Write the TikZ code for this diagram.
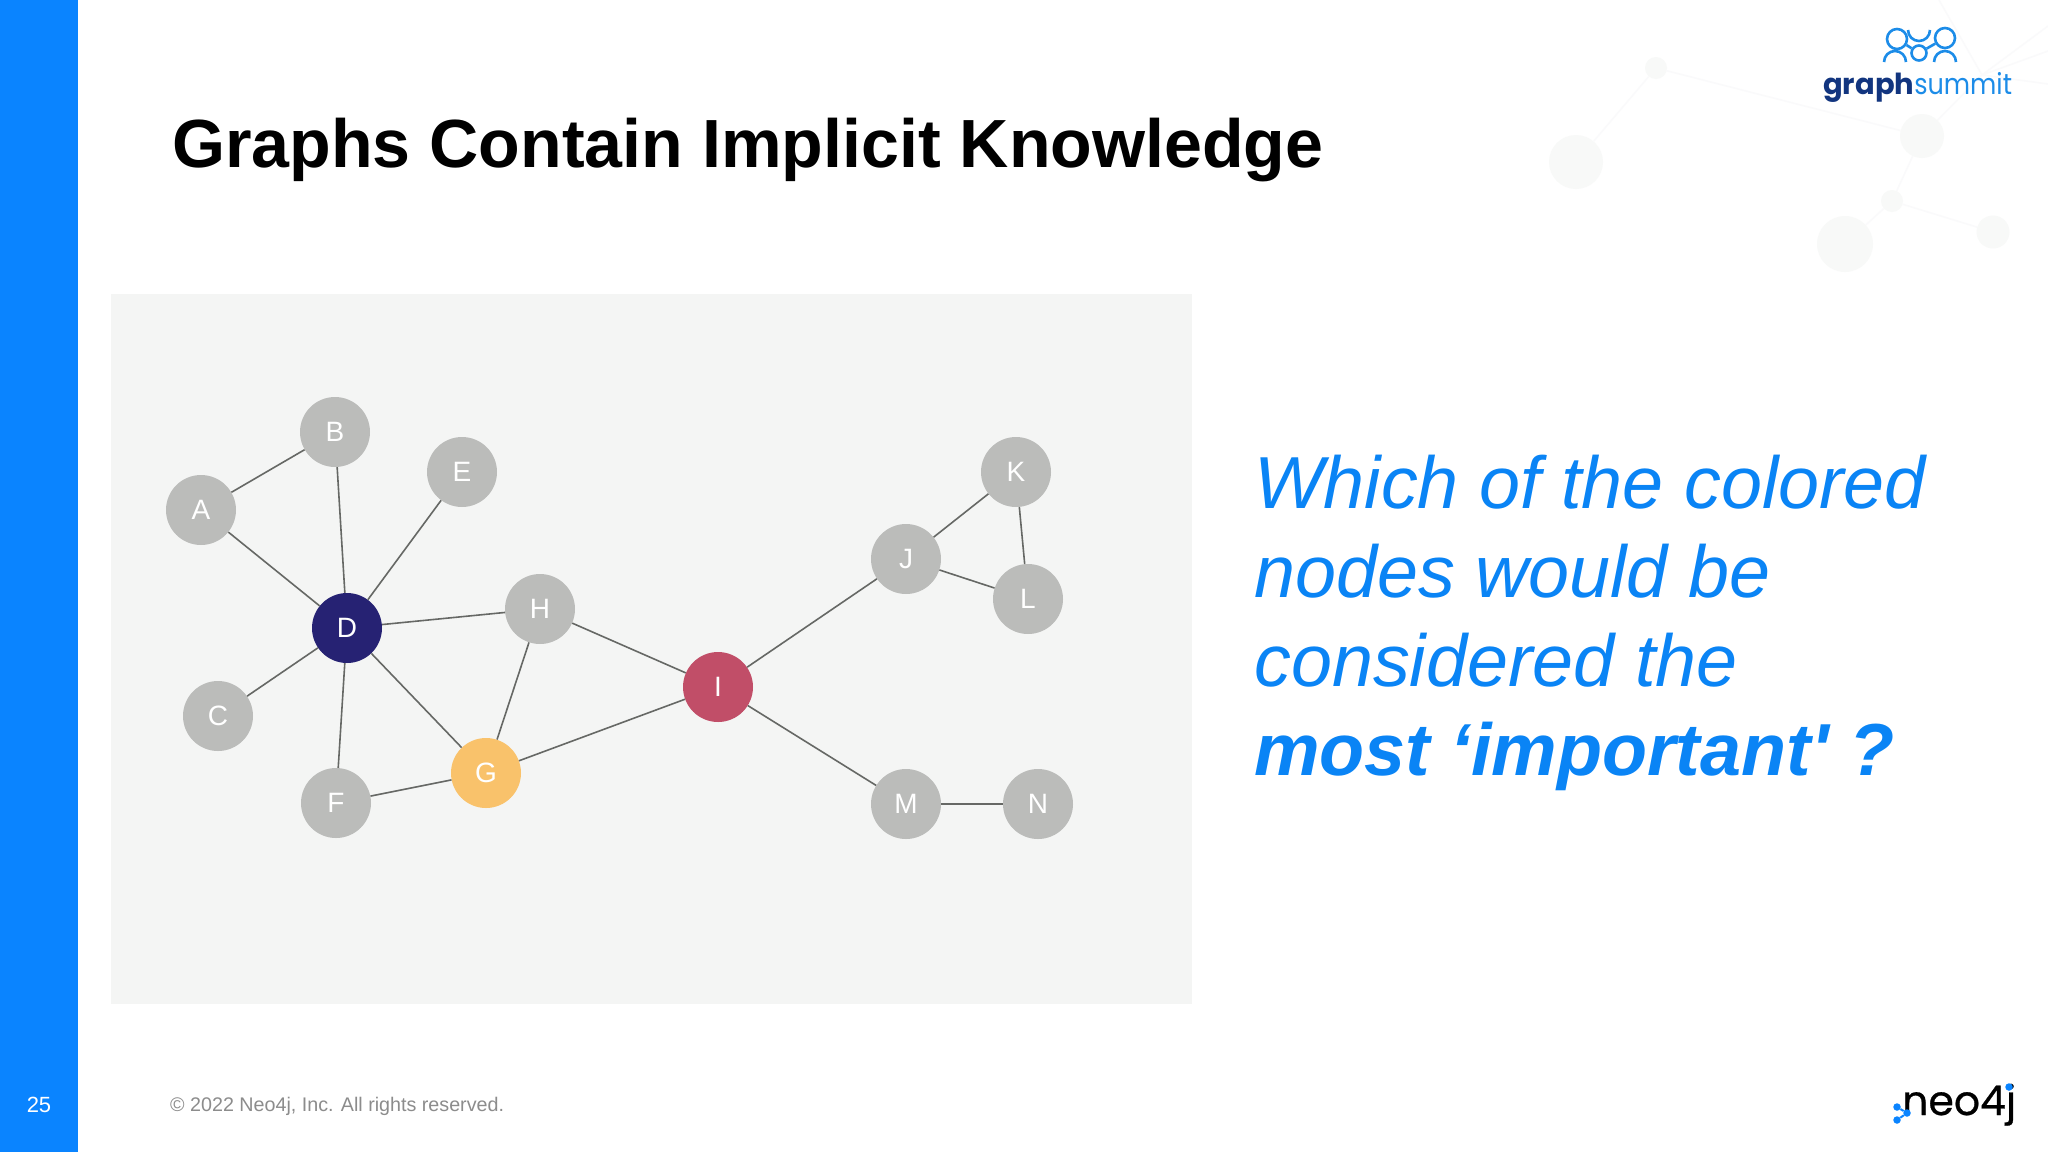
\documentclass[tikz,border=0pt]{standalone}
\usepackage{fontspec}
\setmainfont[Ligatures=TeXOff]{Liberation Sans}
\newfontfamily\logofont{Poppins}
\newfontfamily\summitfont[FakeStretch=0.88]{Poppins}
\newfontfamily\neofont[FakeBold=0.6]{Poppins}
\usepackage{tikz}
\definecolor{barblue}{HTML}{0A84FF}
\definecolor{askblue}{HTML}{0A84F5}
\definecolor{panelgrey}{HTML}{F4F5F4}
\definecolor{nodegrey}{HTML}{BBBCBA}
\definecolor{edgegrey}{HTML}{666865}
\definecolor{darknode}{HTML}{262273}
\definecolor{goldnode}{HTML}{F9C26B}
\definecolor{rednode}{HTML}{C14E68}
\definecolor{ghostfill}{HTML}{F8F9F8}
\definecolor{ghostline}{HTML}{FAFAFB}
\definecolor{logoblue}{HTML}{1C8CE8}
\definecolor{logonavy}{HTML}{12357F}
\definecolor{footgrey}{HTML}{8C8C8C}

\begin{document}
\begin{tikzpicture}[x=1pt,y=-1pt,
	main node/.style={circle,fill=nodegrey,text=white,inner sep=0pt,minimum size=70pt,font=\fontsize{28}{28}\selectfont},
	ghost node/.style={circle,fill=ghostfill,inner sep=0pt,minimum size=#1},
	logo dot/.style={circle,fill=barblue,inner sep=0pt,minimum size=7.5pt},
	logo ring/.style={circle,draw=logoblue,line width=2.6pt,inner sep=0pt,minimum size=#1},
	link/.style={draw=edgegrey,line width=1.6pt}]
	
	\useasboundingbox (0,0) rectangle (2048,1152);
	\fill[white] (0,0) rectangle (2048,1152);
	
	% faint network behind the logo
	\node[ghost node=22pt] (g1) at (1656,68) {};
	\node[ghost node=54pt] (g2) at (1576,162) {};
	\node[ghost node=44pt] (g3) at (1922,136) {};
	\node[ghost node=22pt] (g4) at (1892,201) {};
	\node[ghost node=56pt] (g5) at (1845,244) {};
	\node[ghost node=33pt] (g6) at (1993,232) {};
	\coordinate (hub) at (1982,75);
	\coordinate (e1) at (1939,0);
	\coordinate (e2) at (2048,26);
	\coordinate (e3) at (2048,51);
	\coordinate (e4) at (2048,84);
	\path[draw=ghostline,line width=1.5pt]
	(g1) edge (g2)
	(g1) edge (g3)
	(g3) edge (g4)
	(g4) edge (g5)
	(g4) edge (g6)
	(g3) edge (hub)
	(hub) edge (e1)
	(hub) edge (e2)
	(hub) edge (e3)
	(hub) edge (e4);
	
	\fill[barblue] (0,0) rectangle (78,1152);
	\fill[panelgrey] (111,294) rectangle (1192,1004);
	
	\node[anchor=base west,inner sep=0pt,font=\fontsize{68.15}{68}\selectfont\bfseries] (title) at (172,167) {Graphs Contain Implicit Knowledge};
	
	\node[main node] (a) at (201,510) {A};
	\node[main node] (b) at (335,432) {B};
	\node[main node] (c) at (218,716) {C};
	\node[main node,fill=darknode] (d) at (347,628) {D};
	\node[main node] (e) at (462,472) {E};
	\node[main node] (f) at (336,803) {F};
	\node[main node,fill=goldnode] (g) at (486,773) {G};
	\node[main node] (h) at (540,609) {H};
	\node[main node,fill=rednode] (i) at (718,687) {I};
	\node[main node] (j) at (906,559) {J};
	\node[main node] (k) at (1016,472) {K};
	\node[main node] (l) at (1028,599) {L};
	\node[main node] (m) at (906,804) {M};
	\node[main node] (n) at (1038,804) {N};
	
	\path[link]
	(a) edge (b)
	(a) edge (d)
	(b) edge (d)
	(e) edge (d)
	(c) edge (d)
	(f) edge (d)
	(g) edge (d)
	(h) edge (d)
	(f) edge (g)
	(h) edge (g)
	(h) edge (i)
	(g) edge (i)
	(i) edge (j)
	(i) edge (m)
	(j) edge (k)
	(j) edge (l)
	(k) edge (l)
	(m) edge (n);
	
	\node[anchor=north west,inner sep=0pt,align=left,text=askblue,font=\fontsize{73.7}{89}\selectfont\itshape] (ask) at (1254,455) {Which of the colored\\nodes would be\\considered the\\\textbf{most ‘important' ?}};
	
	\node[anchor=base,inner sep=0pt,text=white,font=\fontsize{22}{22}\selectfont] (page) at (39,1112) {25};
	\node[anchor=base west,inner sep=0pt,text=footgrey,font=\fontsize{19.7}{20}\selectfont] (foot) at (170,1111) {© 2022 Neo4j, Inc. All rights reserved.};
	
	% graphsummit logo
	\node[logo ring=20pt] (lc1) at (1897,39) {};
	\node[logo ring=20pt] (lc2) at (1945,38) {};
	\node[logo ring=15pt] (lc3) at (1919,53) {};
	\path[draw=logoblue,line width=2.6pt] (lc1) edge (lc3) (lc3) edge (lc2);
	\draw[logoblue,line width=2.6pt] (1908,30) arc[start angle=180,end angle=0,radius=11];
	\draw[logoblue,line width=2.6pt] (1884,62) arc[start angle=180,end angle=360,radius=11];
	\draw[logoblue,line width=2.6pt] (1934,62) arc[start angle=180,end angle=360,radius=11];
	\node[anchor=base west,inner sep=0pt,font=\fontsize{29}{29}\logofont\selectfont] (brand) at (1823,94) {\textcolor{logonavy}{\bfseries graph}\textcolor{logoblue}{\summitfont summit}};
	
	% neo4j logo
	\node[anchor=base west,inner sep=0pt,font=\fontsize{41}{41}\neofont\selectfont] (neo) at (1902,1115) {neo4j};
	\node[logo dot] (d1) at (1897,1107) {};
	\node[logo dot] (d2) at (1907,1113) {};
	\node[logo dot] (d3) at (1897,1120) {};
	\node[logo dot] (d4) at (2009,1087) {};
	\path[draw=barblue,line width=2pt] (d1) edge (d2) (d2) edge (d3);
\end{tikzpicture}
\end{document}
